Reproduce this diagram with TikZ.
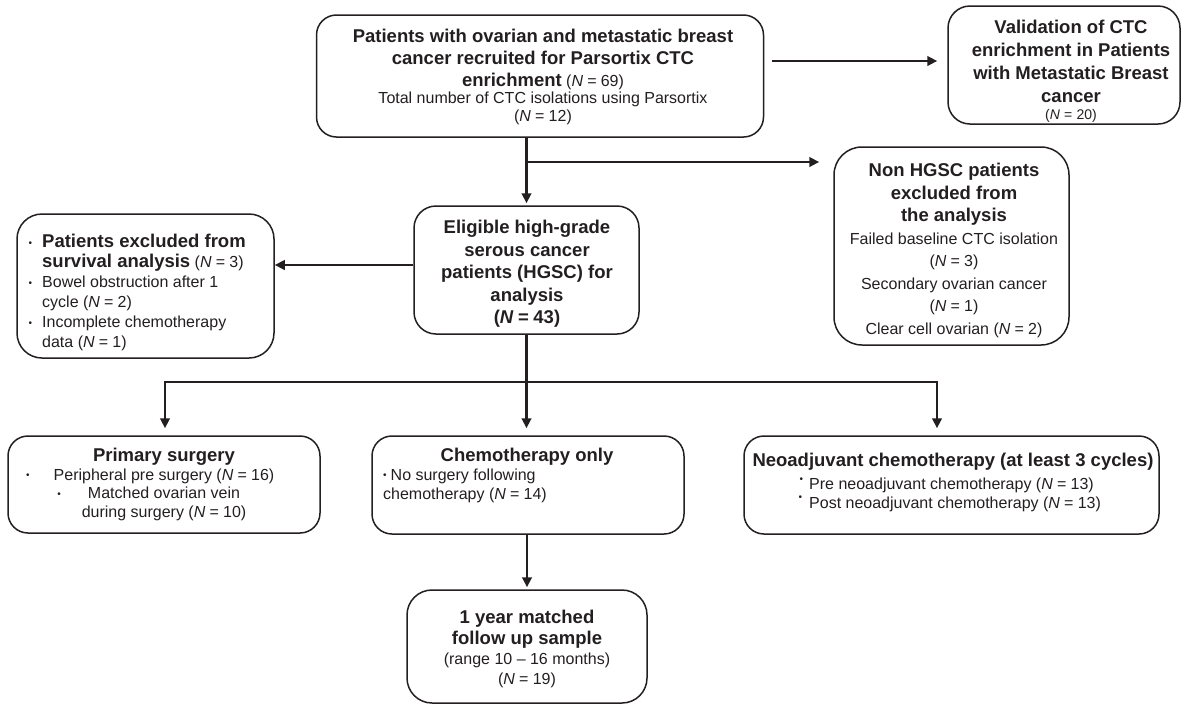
\documentclass[tikz,border=0pt]{standalone}
\usepackage{fontspec}
\setmainfont{Liberation Sans}
\usetikzlibrary{arrows.meta}
\definecolor{ink}{HTML}{231F20}
\newcommand{\mybold}[1]{{\fontsize{18.5}{20}\selectfont\bfseries #1}}
\newcommand{\Nv}[1]{(\textit{N}\hspace{4.2pt}=\hspace{4.2pt}#1)}
\newcommand{\bul}{{\fontsize{10}{10}\selectfont\textbullet}}
\newcommand{\hbul}[2]{\makebox[0pt][r]{\smash{\raisebox{#1}{\bul}}\hspace{#2}}}
\begin{document}
\begin{tikzpicture}[x=1pt,y=-1pt,
  box/.style={draw=ink, line width=1.5pt, rounded corners=20pt, inner sep=0pt},
  txt/.style={inner sep=0pt, text=ink, font=\fontsize{16}{19}\selectfont},
  arr/.style={draw=ink, line width=2.7pt, -{Triangle[length=10pt,width=9.5pt]}},
  ln/.style={draw=ink, line width=2.7pt}]
\useasboundingbox (0,0) rectangle (1184,705);

% boxes
\node[box, minimum width=447pt, minimum height=122pt] (top) at (540,76) {};
\node[box, rounded corners=22pt, minimum width=232pt, minimum height=118pt] (valid) at (1064,65) {};
\node[box, rounded corners=28pt, minimum width=235pt, minimum height=198pt] (nonhgsc) at (951.5,246) {};
\node[box, rounded corners=22pt, minimum width=225pt, minimum height=128pt] (elig) at (526.5,270) {};
\node[box, rounded corners=25pt, minimum width=257pt, minimum height=144pt] (excl) at (145.5,286) {};
\node[box, minimum width=312pt, minimum height=97pt] (prim) at (164,484.5) {};
\node[box, minimum width=312pt, minimum height=98pt] (chemo) at (528,485) {};
\node[box, minimum width=415pt, minimum height=98pt] (neo) at (951.5,485) {};
\node[box, rounded corners=25pt, minimum width=240pt, minimum height=113pt] (follow) at (527,646.5) {};

% texts
\node[txt, anchor=north, align=center, font=\fontsize{16}{18}\selectfont] (ttop) at (543,29)
  {\mybold{Patients with ovarian and metastatic breast}\\[4pt]
   \mybold{cancer recruited for Parsortix CTC}\\[4pt]
   \mybold{enrichment} \Nv{69}\\[-1pt]
   Total number of CTC isolations using Parsortix\\
   \Nv{12}};
\node[txt, anchor=north, align=center, font=\fontsize{16}{23}\selectfont] (tvalid) at (1071,20)
  {\mybold{Validation of CTC}\\
   \mybold{enrichment in Patients}\\
   \mybold{with Metastatic Breast}\\
   \mybold{cancer}\\[-6pt]
   {\fontsize{14}{16}\selectfont\Nv{20}}};
\node[txt, anchor=north, align=center, font=\fontsize{16}{22.5}\selectfont] (tnon) at (954,163)
  {\mybold{Non HGSC patients}\\
   \mybold{excluded from}\\
   \mybold{the analysis}\\
   Failed baseline CTC isolation\\
   \Nv{3}\\
   Secondary ovarian cancer\\
   \Nv{1}\\
   Clear cell ovarian \Nv{2}};
\node[txt, anchor=north, align=center, font=\fontsize{16}{22.5}\selectfont] (telig) at (527,220)
  {\mybold{Eligible high-grade}\\
   \mybold{serous cancer}\\
   \mybold{patients (HGSC) for}\\
   \mybold{analysis}\\
   \mybold{(\textit{N}\hspace{4.5pt}=\hspace{4.5pt}43)}};
\node[txt, anchor=north west, align=left, font=\fontsize{16}{20}\selectfont] (texcl) at (42,234)
  {\hbul{1.5pt}{10pt}\mybold{Patients excluded from}\\
   \mybold{survival analysis} \Nv{3}\\
   \hbul{1.5pt}{10pt}Bowel obstruction after 1\\
   cycle \Nv{2}\\
   \hbul{1.5pt}{10pt}Incomplete chemotherapy\\
   data \Nv{1}};
\node[txt, anchor=north, align=center, font=\fontsize{16}{18.5}\selectfont] (tprim) at (164,448)
  {\mybold{Primary surgery}\\
   \hbul{1.5pt}{24pt}Peripheral pre surgery \Nv{16}\\
   \hbul{1.5pt}{27pt}Matched ovarian vein\\
   during surgery \Nv{10}};
\node[txt, anchor=north, align=center] (tchemo) at (527,448) {\mybold{Chemotherapy only}};
\node[txt, anchor=north west, align=left, font=\fontsize{16}{19}\selectfont] (tchemob) at (383,468.5)
  {\smash{\raisebox{1.5pt}{\bul}}\hspace{4pt}No surgery following\\
   chemotherapy \Nv{14}};
\node[txt, anchor=north, align=center] (tneo) at (953,453) {\mybold{Neoadjuvant chemotherapy (at least 3 cycles)}};
\node[txt, anchor=north west, align=left, font=\fontsize{16}{19}\selectfont] (tneob) at (809,477.5)
  {\hbul{7pt}{6pt}Pre neoadjuvant chemotherapy \Nv{13}\\
   \hbul{8pt}{7pt}Post neoadjuvant chemotherapy \Nv{13}};
\node[txt, anchor=north, align=center, font=\fontsize{16}{20}\selectfont] (tfollow) at (527,610)
  {\mybold{1 year matched}\\[1pt]
   \mybold{follow up sample}\\
   (range 10 – 16 months)\\
   \Nv{19}};

% connectors
\coordinate (a1) at ([yshift=15pt]top.east);
\draw[arr, shorten <=8pt, shorten >=10pt] (a1) -- (a1 -| valid.west);
\draw[arr, shorten >=2pt] (elig.north |- top.south) -- (elig.north);
\coordinate (br) at (526.5,162);
\draw[arr, shorten >=14pt] (br) -- (br -| nonhgsc.west);
\coordinate (el) at ([yshift=5pt]elig.west);
\draw[arr] (el) -- (el -| excl.east);
\coordinate (bL) at (165,382);
\coordinate (bR) at (937,382);
\coordinate (bM) at (elig.south |- bL);
\draw[ln] (elig.south) -- (bM);
\draw[arr, shorten >=7pt] (bM) -- (bL) -- (bL |- prim.north);
\draw[arr, shorten >=7pt] (bM) -- (bR) -- (bR |- neo.north);
\draw[arr, shorten >=7pt] (bM) -- (bM |- chemo.north);
\draw[arr, shorten >=2pt] (follow.north |- chemo.south) -- (follow.north);
\end{tikzpicture}
\end{document}
